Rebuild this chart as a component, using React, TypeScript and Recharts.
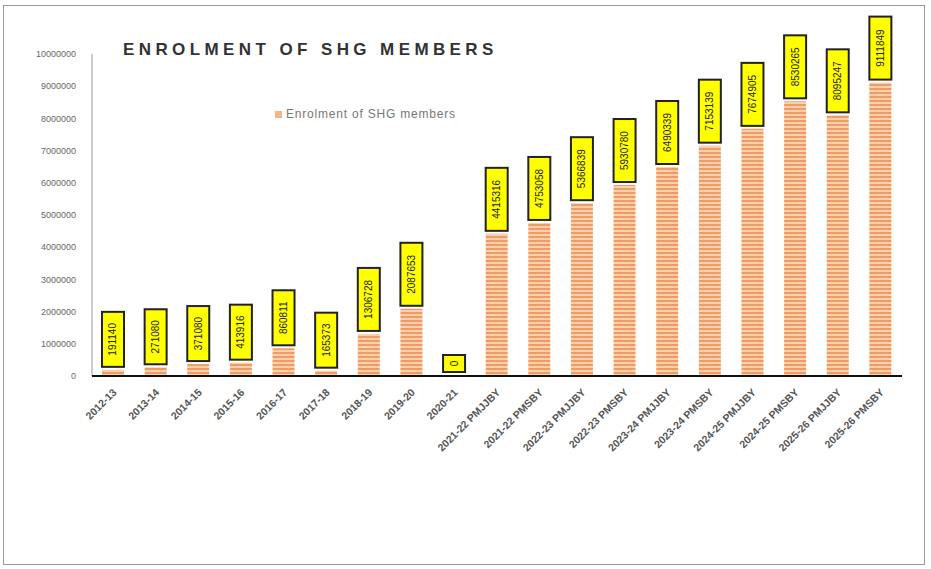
import { BarChart, Bar, XAxis, YAxis, Legend, LabelList } from 'recharts';

const years = [
  '2012-13', '2013-14', '2014-15', '2015-16', '2016-17', '2017-18', '2018-19', '2019-20', '2020-21',
  '2021-22 PMJJBY', '2021-22 PMSBY', '2022-23 PMJJBY', '2022-23 PMSBY', '2023-24 PMJJBY',
  '2023-24 PMSBY', '2024-25 PMJJBY', '2024-25 PMSBY', '2025-26 PMJJBY', '2025-26 PMSBY',
];
const members = [
  191140, 271080, 371080, 413916, 860811, 165373, 1306728, 2087653, 0,
  4415316, 4753058, 5366839, 5930780, 6490339, 7153139, 7674905, 8530265, 8095247, 9111849,
];
const yTicks = [0, 1000000, 2000000, 3000000, 4000000, 5000000, 6000000, 7000000, 8000000, 9000000, 10000000];

const data = years.map((name, i) => ({ name, value: members[i] }));

const font = '"Liberation Sans", Arial, sans-serif';

function BoxLabel(props: any) {
  const { x, y, width, value } = props;
  const text = String(value);
  const h = Math.max(17, text.length * 8 + 7);
  const w = 22;
  const cx = x + width / 2;
  const bottom = y - 3;
  const cy = bottom - h / 2;
  return (
    <g>
      <rect x={cx - w / 2} y={bottom - h} width={w} height={h} fill="#ffff00" stroke="#222" strokeWidth={2} />
      <text
        x={cx}
        y={cy}
        transform={`rotate(-90 ${cx} ${cy})`}
        textAnchor="middle"
        dominantBaseline="central"
        fontSize={10}
        fontFamily={font}
        fill="#222"
      >
        {text}
      </text>
    </g>
  );
}

function XTick(props: any) {
  const { x, y, payload } = props;
  return (
    <text
      x={x + 4}
      y={y + 9}
      transform={`rotate(-45 ${x + 4} ${y + 9})`}
      textAnchor="end"
      fontSize={10.5}
      fontWeight="bold"
      fontFamily={font}
      fill="#555"
    >
      {payload.value}
    </text>
  );
}

export default function App() {
  return (
    <div style={{ position: 'absolute', left: 0, top: 0, width: 931, height: 569, background: '#fff' }}>
      <div
        style={{
          position: 'absolute',
          left: 3,
          top: 5,
          width: 922,
          height: 560,
          border: '1px solid #999',
          boxSizing: 'border-box',
        }}
      />
      <div
        style={{
          position: 'absolute',
          left: 123,
          top: 40,
          fontFamily: font,
          fontSize: 17,
          fontWeight: 'bold',
          letterSpacing: 4.4,
          color: '#333',
        }}
      >
        ENROLMENT OF SHG MEMBERS
      </div>
      <svg width={0} height={0} style={{ position: 'absolute' }}>
        <defs>
          <pattern id="stripes" width={6} height={4} patternUnits="userSpaceOnUse">
            <rect width={6} height={4} fill="#f9cfae" />
            <rect width={6} height={2} fill="#ee9c66" />
          </pattern>
        </defs>
      </svg>
      <BarChart
        width={931}
        height={569}
        data={data}
        margin={{ top: 40, right: 29, left: 0, bottom: 0 }}
        barCategoryGap={10}
        style={{ position: 'absolute', left: 0, top: 0 }}
      >
        <YAxis
          width={92}
          domain={[0, 10000000]}
          ticks={yTicks}
          interval={0}
          tick={{ fontSize: 9, fill: '#666', fontFamily: font }}
          axisLine={{ stroke: '#999' }}
          tickLine={false}
          tickMargin={10}
        />
        <XAxis
          dataKey="name"
          interval={0}
          tick={<XTick />}
          tickLine={false}
          axisLine={{ stroke: '#111', strokeWidth: 2 }}
          height={193}
        />
        <Legend
          layout="horizontal"
          verticalAlign="top"
          align="left"
          iconType="square"
          iconSize={7}
          wrapperStyle={{ position: 'absolute', left: 275, top: 107, width: 260, fontSize: 12, letterSpacing: 0.8, fontFamily: font }}
          formatter={(v: string) => <span style={{ color: '#777' }}>{v}</span>}
        />
        <Bar
          dataKey="value"
          name="Enrolment of SHG members"
          fill="url(#stripes)"
          legendType="square"
          isAnimationActive={false}
          barSize={22}
          minPointSize={1}
        >
          <LabelList dataKey="value" content={<BoxLabel />} />
        </Bar>
      </BarChart>
    </div>
  );
}
